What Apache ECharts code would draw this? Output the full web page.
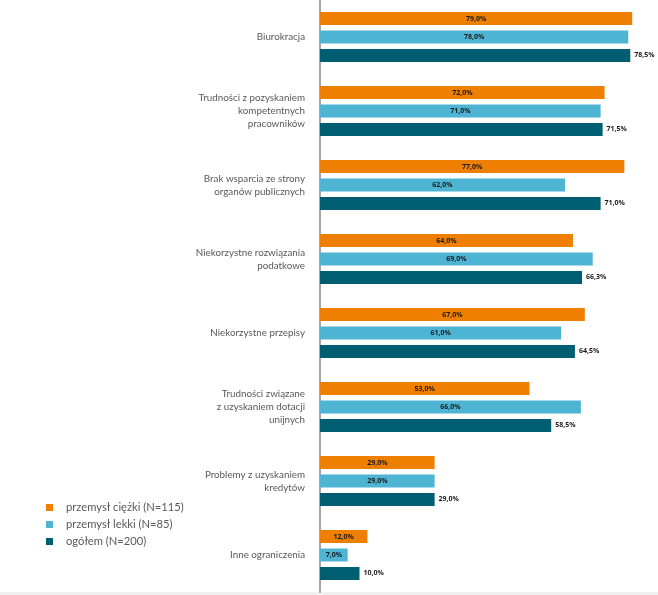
<!DOCTYPE html>
<html>
<head>
    <meta charset="utf-8">
    <title>Ograniczenia</title>
    <script src="https://cdn.jsdelivr.net/npm/echarts@6/dist/echarts.min.js"></script>
    <style>
        html, body { margin: 0; padding: 0; background: #fff; }
    </style>
</head>
<body>
<div id="main" style="width: 658px;height:595px;"></div>
<script type="text/javascript">

    var categories = [
        'Biurokracja',
        'Trudności z pozyskaniem\nkompetentnych\npracowników',
        'Brak wsparcia ze strony\norganów publicznych',
        'Niekorzystne rozwiązania\npodatkowe',
        'Niekorzystne przepisy',
        'Trudności związane\nz uzyskaniem dotacji\nunijnych',
        'Problemy z uzyskaniem\nkredytów',
        'Inne ograniczenia'
    ];
    var seriesNames = ['przemysł ciężki (N=115)', 'przemysł lekki (N=85)', 'ogółem (N=200)'];
    var ciezki = [79, 72, 77, 64, 67, 53, 29, 12];
    var lekki = [78, 71, 62, 69, 61, 66, 29, 7];
    var ogolem = [78.5, 71.5, 71, 66.3, 64.5, 58.5, 29, 10];

    var colors = ['#EE7F00', '#4DB4D4', '#005E73'];

    function pct(p) {
        return p.value.toFixed(1).replace('.', ',') + '%';
    }

    var labelStyle = {
        show: true,
        formatter: pct,
        fontSize: 7,
        fontWeight: 'bold',
        fontFamily: 'Open Sans',
        color: '#1a1a1a'
    };

    var myChart = echarts.init(document.getElementById('main'));

    var option = {
        animation: false,
        color: colors,
        legend: {
            orient: 'vertical',
            left: 41,
            top: 497,
            itemWidth: 7,
            itemHeight: 7,
            itemGap: 6,
            icon: 'rect',
            textStyle: { fontSize: 11.2, color: '#595959', fontFamily: 'Lato', padding: [0, 0, 0, 8] },
            data: seriesNames
        },
        grid: { left: 320, right: 6, top: 0, bottom: 3 },
        xAxis: {
            type: 'value',
            min: 0,
            max: 84,
            show: false,
            splitLine: { show: false }
        },
        yAxis: {
            type: 'category',
            inverse: true,
            data: categories,
            axisTick: { show: false },
            axisLine: { lineStyle: { color: '#A6A6A6', width: 2 } },
            axisLabel: {
                margin: 15,
                fontSize: 9.8,
                lineHeight: 13,
                color: '#595959',
                fontFamily: 'Lato',
                align: 'right'
            }
        },
        series: [{
            name: seriesNames[0],
            type: 'bar',
            data: ciezki,
            barWidth: 13,
            barGap: '42%',
            label: Object.assign({ position: 'inside' }, labelStyle)
        }, {
            name: seriesNames[1],
            type: 'bar',
            data: lekki,
            barWidth: 13,
            barGap: '42%',
            label: Object.assign({ position: 'inside' }, labelStyle)
        }, {
            name: seriesNames[2],
            type: 'bar',
            data: ogolem,
            barWidth: 13,
            barGap: '42%',
            label: Object.assign({ position: 'right', distance: 4 }, labelStyle)
        }],
        graphic: [{
            type: 'rect',
            shape: { x: 0, y: 592, width: 658, height: 3 },
            style: { fill: '#F0F0F0' }
        }]
    };

    myChart.setOption(option);
</script>
</body>
</html>
